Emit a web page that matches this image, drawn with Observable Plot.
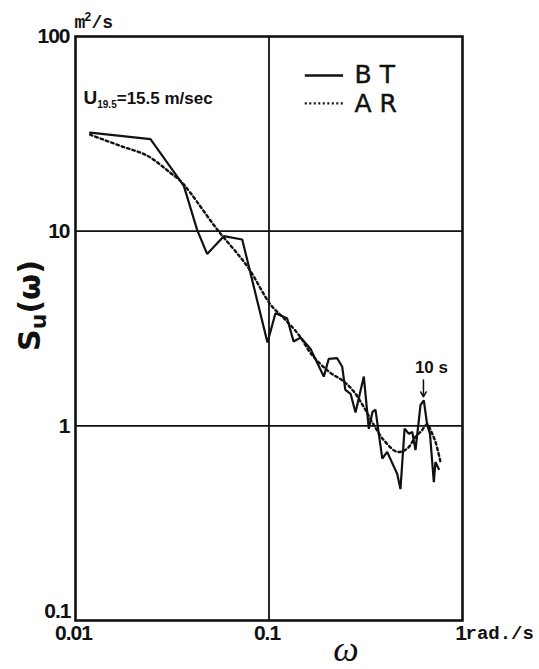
<!DOCTYPE html>
<html>
<head>
<meta charset="utf-8">
<script src="https://cdn.jsdelivr.net/npm/d3@7"></script>
<script src="https://cdn.jsdelivr.net/npm/@observablehq/plot@0.6"></script>
<style>
  html, body { margin: 0; padding: 0; background: #fff; }
  #chart svg { display: block; }
</style>
</head>
<body>
<div id="chart"></div>
<script>
// BT spectrum: angular frequency ω (rad/s) and spectral density S_u(ω) (m²/s)
const omegaBT = [0.0119, 0.0244, 0.0363, 0.0426, 0.0479, 0.0584, 0.0727, 0.0982, 0.108, 0.124,
                 0.134, 0.1455, 0.1638, 0.192, 0.2037, 0.2246, 0.239, 0.248, 0.264, 0.28,
                 0.309, 0.328, 0.343, 0.355, 0.385, 0.408, 0.46, 0.478, 0.502, 0.528,
                 0.55, 0.5715, 0.607, 0.631, 0.657, 0.679, 0.711, 0.725, 0.754];
const spectrumBT = [32.1, 29.7, 17.1, 10.1, 7.64, 9.43, 9.06, 2.68, 3.79, 3.57,
                    2.71, 2.84, 2.49, 1.79, 2.21, 2.23, 2.01, 1.53, 1.46, 1.17,
                    1.79, 0.965, 1.18, 1.21, 0.678, 0.735, 0.566, 0.473, 0.968, 0.91,
                    0.93, 0.75, 1.28, 1.35, 1.01, 0.91, 0.514, 0.652, 0.60];

// AR model spectrum
const omegaAR = [0.0119, 0.0171, 0.0235, 0.031, 0.0349, 0.0393, 0.054, 0.0772, 0.1018, 0.1193,
                 0.1426, 0.167, 0.2037, 0.2435, 0.2744, 0.309, 0.348, 0.392, 0.46, 0.518,
                 0.5715, 0.614, 0.657, 0.683, 0.725, 0.77];
const spectrumAR = [31.3, 27.4, 24.4, 19.9, 18.1, 15.7, 10.2, 6.6, 4.2, 3.57,
                    2.93, 2.31, 1.90, 1.69, 1.50, 1.25, 1.01, 0.844, 0.735, 0.764,
                    0.878, 0.942, 1.02, 0.954, 0.827, 0.65];

// Axis ticks and their labels
const xTicks = [0.01, 0.1, 1];
const xTickLabels = ["0.01", "0.1", "1"];
const yTicks = [100, 10, 1];
const yTickLabels = ["100", "10", "1"];
const yMinTick = [0.1];
const yMinTickLabel = ["0.1"];

// Series names and the 10-second period peak
const seriesNames = ["BT", "AR"];
const peakPeriod = 10; // s
const peakOmega = 2 * Math.PI / peakPeriod;

const bt = omegaBT.map((w, i) => ({w, s: spectrumBT[i]}));
const ar = omegaAR.map((w, i) => ({w, s: spectrumAR[i]}));

const tickFont = "'Liberation Sans', Arial, sans-serif";
const unitFont = "'Liberation Mono', 'DejaVu Sans Mono', monospace";
const tickStyle = {fontFamily: tickFont, fontWeight: "bold", fontSize: 21, lineAnchor: "middle"};
const legendStyle = {frameAnchor: "top-left", textAnchor: "start", lineAnchor: "middle",
                     fontFamily: "'DejaVu Sans', sans-serif", fontSize: 25};

const chart = Plot.plot({
  width: 539,
  height: 669,
  marginLeft: 75,
  marginRight: 77,
  marginTop: 36,
  marginBottom: 49,
  style: {background: "#fff", color: "#111", overflow: "visible"},
  x: {type: "log", domain: [0.01, 1], axis: null},
  y: {type: "log", domain: [0.1, 100], axis: null},
  marks: [
    // grid lines at the middle decades
    Plot.ruleX([0.1], {stroke: "#111", strokeWidth: 1.8}),
    Plot.ruleY([10, 1], {stroke: "#111", strokeWidth: 1.8}),
    Plot.frame({stroke: "#111", strokeWidth: 2.6}),

    // spectra
    Plot.line(bt, {x: "w", y: "s", stroke: "#111", strokeWidth: 2.2, strokeLinejoin: "miter"}),
    Plot.line(ar, {x: "w", y: "s", stroke: "#111", strokeWidth: 2.4,
                   strokeDasharray: "2.6,3", curve: "catmull-rom"}),

    // y tick labels
    Plot.text(yTicks, {x: 0.01, y: d => d, text: (d, i) => yTickLabels[i], dx: -6,
                       textAnchor: "end", ...tickStyle}),
    Plot.text(yMinTick, {x: 0.01, y: d => d, text: (d, i) => yMinTickLabel[i], dx: -5, dy: -9,
                         textAnchor: "end", ...tickStyle}),
    // x tick labels
    Plot.text(xTicks, {x: d => d, y: 0.1, text: (d, i) => xTickLabels[i], dy: 13, dx: -2, ...tickStyle}),
    Plot.text(["rad./s"], {x: 1, y: 0.1, text: d => d, dx: 3, dy: 12, textAnchor: "start",
                           fontFamily: unitFont, fontWeight: "bold", fontSize: 19, lineAnchor: "middle"}),
    Plot.text(["m2/s"], {frameAnchor: "top-left", text: d => d, dy: -14, dx: -1, textAnchor: "start",
                         fontFamily: unitFont, fontWeight: "bold", fontSize: 18, lineAnchor: "middle"}),

    // axis titles
    Plot.text(["ω"], {frameAnchor: "bottom", text: d => d, dx: 77, dy: 29, lineAnchor: "middle",
                      textAnchor: "middle",
                      fontFamily: "'Liberation Serif', serif", fontStyle: "italic", fontSize: 36}),
    Plot.text(["Su(ω)"], {frameAnchor: "left", text: d => d, dx: -45, dy: -23, rotate: -90,
                          lineAnchor: "middle", textAnchor: "middle",
                          fontFamily: "'DejaVu Sans', sans-serif", fontWeight: "bold", fontSize: 30}),

    // wind speed note
    Plot.text(["U19.5=15.5 m/sec"], {frameAnchor: "top-left", text: d => d, dx: 8, dy: 62,
                                      textAnchor: "start", lineAnchor: "middle",
                                      fontFamily: "'Liberation Sans', sans-serif",
                                      fontWeight: "bold", fontSize: 17}),

    // legend: sample strokes and series names
    Plot.ruleY([63], {x1: 0.154, x2: 0.243, stroke: "#111", strokeWidth: 2.4}),
    Plot.ruleY([45.3], {x1: 0.154, x2: 0.243, stroke: "#111", strokeWidth: 2.2, strokeDasharray: "2,2.5"}),
    Plot.text([seriesNames[0]], {...legendStyle, text: d => d, dx: 279, dy: 38}),
    Plot.text([seriesNames[1]], {...legendStyle, text: d => d, dx: 279, dy: 67}),

    // 10 s period marker
    Plot.arrow([peakOmega], {x1: d => d, x2: d => d, y1: 1.72, y2: 1.41, stroke: "#111",
                             strokeWidth: 1.5, headLength: 6}),
    Plot.text([peakOmega], {x: d => d, y: 2.0, text: () => `${peakPeriod} s`, dx: 8,
                            lineAnchor: "middle",
                            fontFamily: "'Liberation Sans', sans-serif", fontWeight: "bold", fontSize: 17})
  ]
});

document.getElementById("chart").append(chart);
const svg = d3.select(chart);
const byText = s => svg.selectAll("text").filter(function() { return this.textContent === s; });

// wind speed with subscripted height
byText("U19.5=15.5 m/sec").each(function() {
  const t = d3.select(this).text(null);
  t.append("tspan").attr("font-size", 19).text("U");
  t.append("tspan").attr("font-size", 10).attr("dy", 4).text("19.5");
  t.append("tspan").attr("dy", -4).text("=15.5 m/sec");
});

// y-axis title with subscript u
byText("Su(ω)").each(function() {
  const t = d3.select(this).text(null);
  t.append("tspan").text("S");
  t.append("tspan").attr("font-size", 22).attr("dy", 6).text("u");
  t.append("tspan").attr("dy", -6).text("(ω)");
});

// unit with superscript 2
byText("m2/s").each(function() {
  const t = d3.select(this).text(null);
  t.append("tspan").text("m");
  t.append("tspan").attr("font-size", 12).attr("dy", -7).attr("dx", -1).text("2");
  t.append("tspan").attr("dy", 7).text("/s");
});

// spacing of the legend labels and tick digits
seriesNames.forEach(n => byText(n).attr("letter-spacing", 8).attr("stroke", "#111").attr("stroke-width", 0.4));
svg.selectAll("text").filter(function() {
  return /^[0-9.]+$/.test(this.textContent);
}).attr("letter-spacing", -1);
</script>
</body>
</html>
